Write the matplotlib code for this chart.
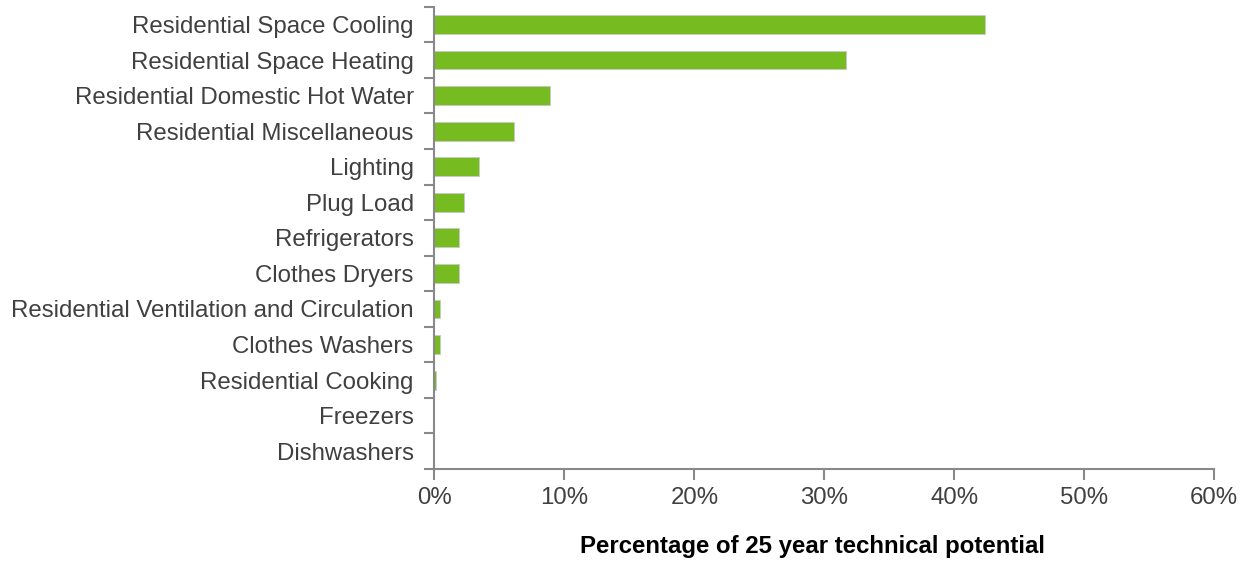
import matplotlib
matplotlib.use("Agg")
import matplotlib.pyplot as plt
import numpy as np

categories = [
    "Residential Space Cooling",
    "Residential Space Heating",
    "Residential Domestic Hot Water",
    "Residential Miscellaneous",
    "Lighting",
    "Plug Load",
    "Refrigerators",
    "Clothes Dryers",
    "Residential Ventilation and Circulation",
    "Clothes Washers",
    "Residential Cooking",
    "Freezers",
    "Dishwashers",
]
values = [42.4, 31.7, 8.9, 6.1, 3.4, 2.3, 1.9, 1.9, 0.43, 0.43, 0.15, 0.0, 0.0]
xticks = [0, 10, 20, 30, 40, 50, 60]
xticklabels = ["0%", "10%", "20%", "30%", "40%", "50%", "60%"]
xlabel = "Percentage of 25 year technical potential"

plt.rcParams['font.family'] = ['Liberation Sans', 'DejaVu Sans']

W, H = 1249, 565
fig = plt.figure(figsize=(W / 100, H / 100), dpi=100)
ax = fig.add_axes([434.5 / W, 1 - 469 / H, (1214 - 434.5) / W, (469 - 6.7) / H])

spine_c = '#898989'
text_c = '#404040'
ypos = np.arange(len(categories))
ax.barh(ypos, values, height=0.53, color='#76BC21', edgecolor='#c8c8c8', linewidth=0.6)

ax.set_xlim(0, 60)
ax.set_ylim(len(categories) - 0.5, -0.5)

ax.set_xticks(xticks)
ax.set_xticklabels(xticklabels, fontsize=17.3, color=text_c)
ax.set_yticks(np.arange(len(categories) + 1) - 0.5)
ax.set_yticklabels([])
ax.set_yticks(ypos, minor=True)
ax.set_yticklabels(categories, minor=True, fontsize=17.3, color=text_c)

ax.tick_params(axis='y', which='major', length=7, width=1.5, color=spine_c, direction='out')
ax.tick_params(axis='y', which='minor', length=0, pad=15)
ax.tick_params(axis='x', which='major', length=8, width=1.5, color=spine_c, direction='out', pad=5)

for s in ['top', 'right']:
    ax.spines[s].set_visible(False)
for s in ['left', 'bottom']:
    ax.spines[s].set_color(spine_c)
    ax.spines[s].set_linewidth(1.5)

fig.text(813 / W, 1 - 546 / H, xlabel, fontsize=17.3, fontweight='bold',
         ha='center', va='center', color='black')

fig.savefig('out.png', dpi=100)
